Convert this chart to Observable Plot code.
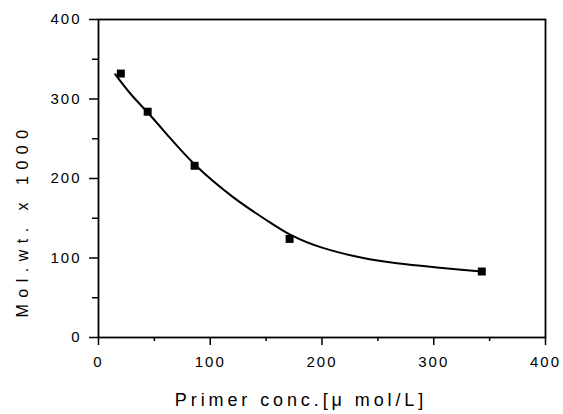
<!DOCTYPE html>
<html>
<head>
<meta charset="utf-8">
<script src="https://cdn.jsdelivr.net/npm/d3@7"></script>
<script src="https://cdn.jsdelivr.net/npm/@observablehq/plot@0.6"></script>
<style>
  html, body { margin: 0; padding: 0; background: white; }
</style>
</head>
<body>
<div id="chart"></div>
<script>
// Measured points
const conc = [20, 44, 86, 171, 343];
const molwt = [332, 284, 216, 124, 83];

// Fitted curve
const curveX = [15, 29, 44, 64, 88, 121, 151, 172, 200, 237, 267, 297, 327, 343];
const curveY = [331, 306, 283, 251, 215, 176, 147, 129, 113, 100, 93.5, 89, 85, 83];

const majorTicks = [0, 100, 200, 300, 400];
const minorTicks = [50, 150, 250, 350];

const xLabel = "Primer conc.[\u03bc mol/L]";
const yLabel = "Mol.wt. x 1000";

const points = conc.map((x, i) => ({x, y: molwt[i]}));
const curve = curveX.map((x, i) => ({x, y: curveY[i]}));

const chart = Plot.plot({
  width: 563,
  height: 414,
  marginLeft: 98,
  marginRight: 18,
  marginTop: 19,
  marginBottom: 77,
  x: {domain: [0, 400]},
  y: {domain: [0, 400]},
  style: {fontFamily: "Liberation Sans, Arial, sans-serif", fontSize: "15px", color: "black", background: "white"},
  marks: [
    Plot.frame({stroke: "black", strokeWidth: 1.8}),
    Plot.axisX({ticks: majorTicks, tickSize: 8, tickPadding: 11, label: null, strokeWidth: 1.5, fontSize: 15}),
    Plot.axisX({ticks: minorTicks, tickSize: 4, tickFormat: () => "", label: null, strokeWidth: 1.5}),
    Plot.axisY({ticks: majorTicks, tickSize: 9, tickPadding: 8, label: null, strokeWidth: 1.5, fontSize: 15}),
    Plot.axisY({ticks: minorTicks, tickSize: 6, tickFormat: () => "", label: null, strokeWidth: 1.5}),
    Plot.line(curve, {x: "x", y: "y", curve: "natural", stroke: "black", strokeWidth: 2}),
    Plot.dot(points, {x: "x", y: "y", symbol: "square", r: 4.5, fill: "black", stroke: "none"}),
    Plot.text([xLabel], {text: d => d, frameAnchor: "bottom", dx: -21, dy: 68, fontSize: 18, textAnchor: "middle"}),
    Plot.text([yLabel], {text: d => d, frameAnchor: "left", rotate: -90, dx: -76, dy: 42, fontSize: 16, textAnchor: "middle"})
  ]
});

document.getElementById("chart").appendChild(chart);
d3.select(chart).selectAll("text").each(function() {
  const t = this.textContent;
  const s = this.style;
  if (t === xLabel) { s.letterSpacing = "3.9px"; s.fontSize = "18px"; }
  else if (t === yLabel) { s.letterSpacing = "6.5px"; s.fontSize = "16px"; }
  else { s.letterSpacing = "2px"; s.fontSize = "15px"; }
});
</script>
</body>
</html>
